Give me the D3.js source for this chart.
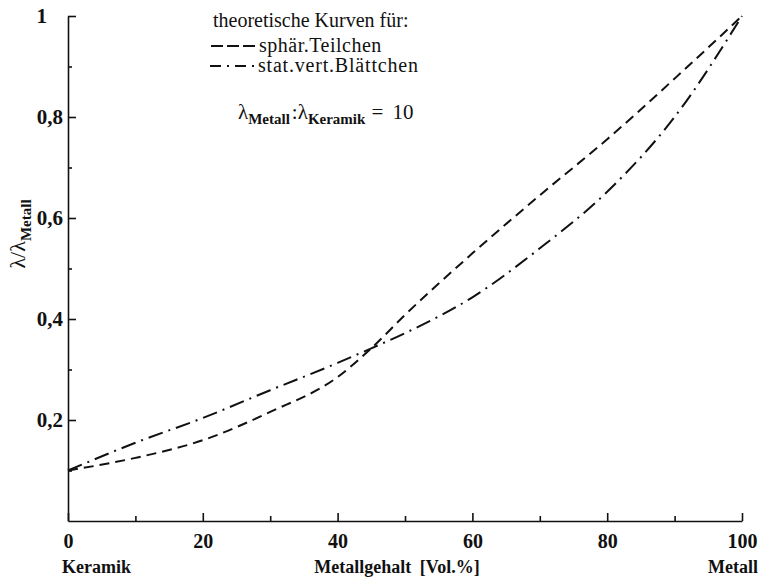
<!DOCTYPE html>
<html>
<head>
<meta charset="utf-8">
<script src="https://cdn.jsdelivr.net/npm/d3@7"></script>
<style>
  body { margin: 0; background: #fff; }
  text { font-family: "Liberation Serif", "Times New Roman", serif; fill: #111; }
</style>
</head>
<body>
<div id="chart-area"></div>
<script>
// Metallgehalt [Vol.%]
const metallgehalt = [0, 10, 20, 30, 40, 45, 50, 60, 70, 80, 90, 100];
// theoretische Kurve: sphär. Teilchen
const sphaerTeilchen = [0.1, 0.125, 0.16, 0.216, 0.285, 0.342, 0.408, 0.53, 0.645, 0.756, 0.876, 1.0];
// theoretische Kurve: stat. vert. Blättchen
const blaettchen = [0.1, 0.155, 0.204, 0.259, 0.313, 0.342, 0.372, 0.443, 0.54, 0.652, 0.8, 1.0];

const xTicks = [0, 20, 40, 60, 80, 100];
const xMinor = [10, 30, 50, 70, 90];
const yTicks = [0.2, 0.4, 0.6, 0.8, 1];
const yMinor = [0.1, 0.3, 0.5, 0.7, 0.9];

const W = 758, H = 580;
const MARGIN = { LEFT: 68, RIGHT: 16, TOP: 16, BOTTOM: 59 };

const svg = d3.select('#chart-area').append('svg')
  .attr('width', W).attr('height', H);

const x = d3.scaleLinear().domain([0, 100]).range([MARGIN.LEFT, W - MARGIN.RIGHT]);
const y = d3.scaleLinear().domain([0, 1]).range([H - MARGIN.BOTTOM, MARGIN.TOP]);

const fmt = d => d === 1 ? '1' : d3.format('.1f')(d).replace('.', ',');

// y axis
const yAxisGroup = svg.append('g')
  .attr('transform', `translate(${x(0)},0)`)
  .call(d3.axisLeft(y).tickValues(yTicks).tickFormat(fmt).tickSizeInner(-8).tickSizeOuter(0).tickPadding(5));
yAxisGroup.selectAll('text').attr('font-size', 21).attr('font-weight', 'bold')
  .attr('dx', d => d === 1 ? -16 : 0);
svg.append('g')
  .attr('transform', `translate(${x(0)},0)`)
  .call(d3.axisLeft(y).tickValues(yMinor).tickFormat('').tickSizeInner(-4).tickSizeOuter(0))
  .select('.domain').remove();

// x axis
const xAxisGroup = svg.append('g')
  .attr('transform', `translate(0,${y(0)})`)
  .call(d3.axisBottom(x).tickValues(xTicks).tickFormat(d3.format('d')).tickSizeInner(-8).tickSizeOuter(0).tickPadding(13));
xAxisGroup.selectAll('text').attr('font-size', 20).attr('font-weight', 'bold');
svg.append('g')
  .attr('transform', `translate(0,${y(0)})`)
  .call(d3.axisBottom(x).tickValues(xMinor).tickFormat('').tickSizeInner(-5).tickSizeOuter(0))
  .select('.domain').remove();

svg.selectAll('.domain, .tick line').attr('stroke', '#111').attr('stroke-width', 1.6);

// axis captions
svg.append('text').attr('x', 62).attr('y', 573).attr('font-size', 18).attr('font-weight', 'bold').text('Keramik');
svg.append('text').attr('x', 397).attr('y', 573).attr('text-anchor', 'middle').attr('font-size', 18).attr('font-weight', 'bold')
  .attr('word-spacing', 4).text('Metallgehalt [Vol.%]');
svg.append('text').attr('x', 758).attr('y', 573).attr('text-anchor', 'end').attr('font-size', 18).attr('font-weight', 'bold').text('Metall');

const yLabel = svg.append('text')
  .attr('transform', 'translate(25,234) rotate(-90)')
  .attr('text-anchor', 'middle')
  .attr('font-size', 22);
yLabel.append('tspan').text('λ/λ');
yLabel.append('tspan').attr('dy', 6).attr('font-size', 15).attr('font-weight', 'bold').text('Metall');

// curves
const line = d3.line()
  .x((d, i) => x(metallgehalt[i]))
  .y(d => y(d))
  .curve(d3.curveMonotoneX);

const DASH = '10,6';
const DASHDOT = '15,6,2,6';

svg.append('path').datum(sphaerTeilchen)
  .attr('d', line).attr('fill', 'none').attr('stroke', '#111')
  .attr('stroke-width', 2).attr('stroke-dasharray', DASH);
svg.append('path').datum(blaettchen)
  .attr('d', line).attr('fill', 'none').attr('stroke', '#111')
  .attr('stroke-width', 2).attr('stroke-dasharray', DASHDOT);

// legend
const lg = svg.append('g');
lg.append('text').attr('x', 213).attr('y', 27).attr('font-size', 20).text('theoretische Kurven für:');
lg.append('line').attr('x1', 211).attr('x2', 256).attr('y1', 46).attr('y2', 46)
  .attr('stroke', '#111').attr('stroke-width', 2).attr('stroke-dasharray', '12,4');
lg.append('text').attr('x', 259).attr('y', 52).attr('font-size', 20).attr('letter-spacing', 0.5).text('sphär.Teilchen');
lg.append('line').attr('x1', 210).attr('x2', 256).attr('y1', 66).attr('y2', 66)
  .attr('stroke', '#111').attr('stroke-width', 2).attr('stroke-dasharray', '11,6,2,6');
lg.append('text').attr('x', 258).attr('y', 72).attr('font-size', 20).attr('letter-spacing', 0.8).text('stat.vert.Blättchen');

const f = lg.append('text').attr('x', 238).attr('y', 119).attr('font-size', 21);
f.append('tspan').text('λ');
f.append('tspan').attr('dy', 5).attr('font-size', 15).attr('font-weight', 'bold').text('Metall');
f.append('tspan').attr('dy', -5).attr('dx', 2).text(':λ');
f.append('tspan').attr('dy', 5).attr('font-size', 15).attr('font-weight', 'bold').text('Keramik');
f.append('tspan').attr('dy', -5).attr('dx', 6).attr('word-spacing', 4).text('= 10');
</script>
</body>
</html>
